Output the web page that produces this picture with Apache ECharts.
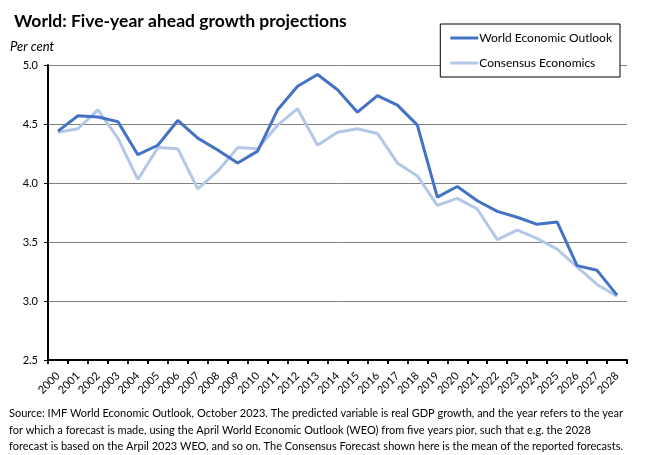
<!DOCTYPE html>
<html>
<head>
<meta charset="utf-8">
<script src="https://cdn.jsdelivr.net/npm/echarts@6/dist/echarts.min.js"></script>
<style>
  html, body { margin: 0; padding: 0; background: #fff; }
  #chart { width: 650px; height: 455px; }
</style>
</head>
<body>
<div id="chart"></div>
<script>
var years = ["2000", "2001", "2002", "2003", "2004", "2005", "2006", "2007", "2008", "2009",
  "2010", "2011", "2012", "2013", "2014", "2015", "2016", "2017", "2018", "2019",
  "2020", "2021", "2022", "2023", "2024", "2025", "2026", "2027", "2028"];

var weo = [4.44, 4.57, 4.56, 4.52, 4.24, 4.32, 4.53, 4.38, 4.28, 4.17,
  4.27, 4.62, 4.82, 4.92, 4.79, 4.60, 4.74, 4.66, 4.49, 3.88,
  3.97, 3.85, 3.76, 3.71, 3.65, 3.67, 3.30, 3.26, 3.05];

var consensus = [4.43, 4.46, 4.62, 4.38, 4.03, 4.30, 4.29, 3.95, 4.10, 4.30,
  4.29, 4.49, 4.63, 4.32, 4.43, 4.46, 4.42, 4.17, 4.06, 3.81,
  3.87, 3.78, 3.52, 3.60, 3.53, 3.44, 3.29, 3.14, 3.04];

var footnote = [
  "Source: IMF World Economic Outlook, October 2023. The predicted variable is real GDP growth, and the year refers to the year",
  "for which a forecast is made, using the April World Economic Outlook (WEO) from five years pior, such that e.g. the 2028",
  "forecast is based on the Arpil 2023 WEO, and so on. The Consensus Forecast shown here is the mean of the reported forecasts."
];

var font = "Lato, 'Open Sans', sans-serif";
var chart = echarts.init(document.getElementById("chart"));

var option = {
  backgroundColor: "#fff",
  animation: false,
  title: {
    text: "World: Five-year ahead growth projections",
    left: 9,
    top: 7,
    textStyle: { fontFamily: font, fontSize: 17.5, fontWeight: "bold", color: "#000" }
  },
  legend: {
    right: 30,
    top: 24,
    orient: "vertical",
    itemGap: 13,
    itemWidth: 28,
    itemHeight: 3,
    padding: [8, 8, 8, 10],
    borderColor: "#000",
    borderWidth: 1,
    backgroundColor: "#fff",
    icon: "rect",
    textStyle: { fontFamily: font, fontSize: 12, color: "#000", padding: [0, 0, 0, -4] },
    data: ["World Economic Outlook", "Consensus Economics"]
  },
  grid: { left: 48, right: 23, top: 65, bottom: 95 },
  xAxis: {
    type: "category",
    data: years,
    boundaryGap: true,
    axisLine: { lineStyle: { color: "#000", width: 2 } },
    axisTick: { show: true, length: 4, lineStyle: { color: "#000", width: 2 } },
    axisLabel: { rotate: 45, interval: 0, fontFamily: font, fontSize: 11, color: "#000", margin: 14 }
  },
  yAxis: {
    type: "value",
    min: 2.5,
    max: 5.0,
    interval: 0.5,
    name: "Per cent",
    nameLocation: "end",
    nameGap: 12,
    nameTextStyle: { fontFamily: font, fontSize: 13, fontStyle: "italic", color: "#000", align: "left", padding: [0, 0, 0, -38] },
    axisLine: { show: true, lineStyle: { color: "#000", width: 2 } },
    axisTick: { show: true, length: 4, lineStyle: { color: "#000", width: 1 } },
    axisLabel: {
      fontFamily: font, fontSize: 11, color: "#000", margin: 10,
      formatter: function (v) { return v.toFixed(1); }
    },
    splitLine: { show: true, lineStyle: { color: "#808080", width: 1 } }
  },
  series: [
    {
      name: "World Economic Outlook",
      type: "line",
      data: weo,
      symbol: "none",
      z: 3,
      lineStyle: { color: "#4472C4", width: 3 },
      itemStyle: { color: "#4472C4" }
    },
    {
      name: "Consensus Economics",
      type: "line",
      data: consensus,
      symbol: "none",
      z: 2,
      lineStyle: { color: "#B4C7E7", width: 3 },
      itemStyle: { color: "#B4C7E7" }
    }
  ],
  graphic: footnote.map(function (line, i) {
    return {
      type: "text",
      left: 9,
      top: 408 + i * 16.5,
      style: { text: line, font: "11px " + font, fill: "#000" }
    };
  })
};

chart.setOption(option);
</script>
</body>
</html>
